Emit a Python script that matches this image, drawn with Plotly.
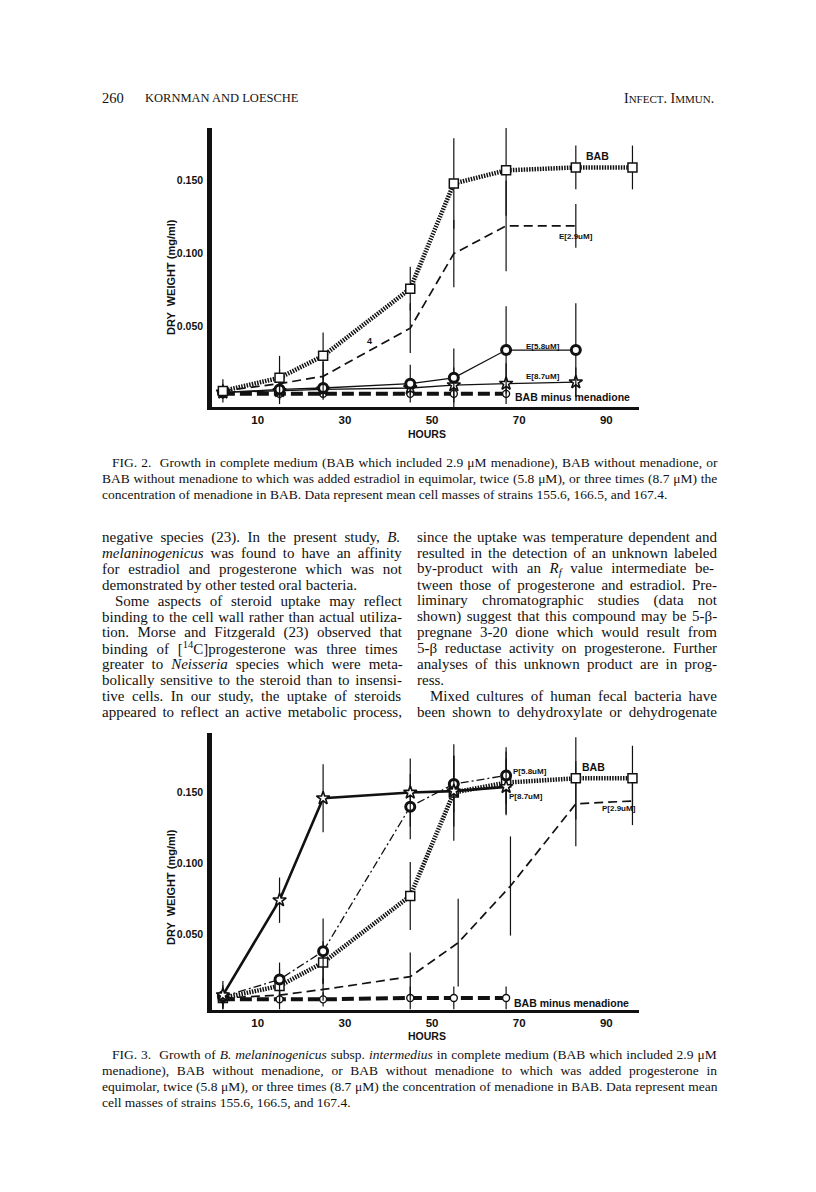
import re
import plotly.graph_objects as go

W, H = 816, 1192

# ---- FIG. 2 : estradiol ----
hours = [2, 15, 25, 45, 55, 67, 83, 96]
bab_2 = [0.006, 0.015, 0.030, 0.076, 0.148, 0.157, 0.159, 0.159]
bab_2_sd = [0.008, 0.015, 0.016, 0.015, 0.031, 0.031, 0.015, 0.015]
e29 = [0.006, 0.011, 0.016, 0.049, 0.100, 0.119, 0.119]
e29_sd = [0.005, 0.010, 0.010, 0.017, 0.023, 0.031, 0.015]
e58 = [0.005, 0.007, 0.008, 0.011, 0.015, 0.034, 0.034]
e58_sd = [0.004, 0.010, 0.008, 0.013, 0.020, 0.030, 0.032]
e87 = [0.005, 0.006, 0.007, 0.008, 0.010, 0.011, 0.012]
e87_sd = [0.003, 0.006, 0.005, 0.005, 0.012, 0.014, 0.010]
minus_2 = [0.004, 0.004, 0.004, 0.004, 0.004, 0.004]
minus_2_sd = [0.003, 0.003, 0.003, 0.003, 0.003, 0.003]

# ---- FIG. 3 : progesterone ----
bab_3 = [0.005, 0.0135, 0.030, 0.077, 0.150, 0.157, 0.160, 0.160]
bab_3_sd = [0.006, 0.012, 0.015, 0.024, 0.034, 0.022, 0.029, 0.023]
p87 = [0.007, 0.074, 0.146, 0.150, 0.151, 0.154]
p87_sd = [0.010, 0.016, 0.024, 0.024, 0.025, 0.020]
p58 = [0.006, 0.018, 0.038, 0.140, 0.156, 0.162]
p58_sd = [0.008, 0.012, 0.023, 0.023, 0.020, 0.020]
hours_p29 = [2, 15, 25, 45, 56, 68, 83, 96]
p29 = [0.005, 0.007, 0.011, 0.020, 0.044, 0.084, 0.142, 0.144]
p29_sd = [0.004, 0.006, 0.008, 0.017, 0.031, 0.035, 0.030, 0.017]
minus_3 = [0.004, 0.004, 0.004, 0.005, 0.005, 0.005]
minus_3_sd = [0.007, 0.007, 0.005, 0.008, 0.008, 0.008]

x_ticks = [10, 30, 50, 70, 90]
y_ticks = [0.05, 0.10, 0.15]
y_tick_text = ["0.050", "0.100", "0.150"]

cap2 = [
    "FIG. 2.  Growth in complete medium (BAB which included 2.9 μM menadione), BAB without menadione, or",
    "BAB without menadione to which was added estradiol in equimolar, twice (5.8 μM), or three times (8.7 μM) the",
    "concentration of menadione in BAB. Data represent mean cell masses of strains 155.6, 166.5, and 167.4.",
]
cap3 = [
    "FIG. 3.  Growth of <i>B. melaninogenicus</i> subsp. <i>intermedius</i> in complete medium (BAB which included 2.9 μM",
    "menadione), BAB without menadione, or BAB without menadione to which was added progesterone in",
    "equimolar, twice (5.8 μM), or three times (8.7 μM) the concentration of menadione in BAB. Data represent mean",
    "cell masses of strains 155.6, 166.5, and 167.4.",
]
col_left = [
    "negative species (23). In the present study, <i>B.</i>",
    "<i>melaninogenicus</i> was found to have an affinity",
    "for estradiol and progesterone which was not",
    "demonstrated by other tested oral bacteria.",
    "Some aspects of steroid uptake may reflect",
    "binding to the cell wall rather than actual utiliza-",
    "tion. Morse and Fitzgerald (23) observed that",
    "binding of [<sup>14</sup>C]progesterone was three times",
    "greater to <i>Neisseria</i> species which were meta-",
    "bolically sensitive to the steroid than to insensi-",
    "tive cells. In our study, the uptake of steroids",
    "appeared to reflect an active metabolic process,",
]
col_right = [
    "since the uptake was temperature dependent and",
    "resulted in the detection of an unknown labeled",
    "by-product with an <i>R<sub>f</sub></i> value intermediate be-",
    "tween those of progesterone and estradiol. Pre-",
    "liminary chromatographic studies (data not",
    "shown) suggest that this compound may be 5-β-",
    "pregnane 3-20 dione which would result from",
    "5-β reductase activity on progesterone. Further",
    "analyses of this unknown product are in prog-",
    "ress.",
    "Mixed cultures of human fecal bacteria have",
    "been shown to dehydroxylate or dehydrogenate",
]

# Times / Liberation Serif advance widths (per 1000 em), used to justify lines
TIMES = {}
for chars, w in [(" ,.", 250), ("ijlt:;/", 278), ("frI()[]-'!", 333), ("sJ", 389),
                 ("acez?", 444), ("bdghknopquvxy0123456789μβ", 500), ("FPS", 556),
                 ("ELTZ", 611), ("BCR", 667), ("wADGHKNOQUVXY", 722), ("m", 778),
                 ("M", 889), ("W", 944)]:
    for c in chars:
        TIMES[c] = w


def text_w(s, size):
    plain = re.sub(r"<[^>]+>", "", s)
    return sum(TIMES.get(c, 500) for c in plain) * size / 1000.0


def justify(s, width, size):
    plain = re.sub(r"<[^>]+>", "", s)
    n = plain.count(" ")
    if n == 0:
        return s
    ws = (width - text_w(s, size)) / n
    return '<span style="word-spacing:%.2fpx">%s</span>' % (ws, s)


def px(x):
    return x / W


def py(y):
    return 1 - y / H


SERIF = "Liberation Serif"
SANS = "Liberation Sans"
INK = "#111111"

fig = go.Figure()


def series(x, y, sd, ax, line, marker=None):
    fig.add_trace(go.Scatter(
        x=x, y=y, xaxis=ax[0], yaxis=ax[1],
        mode="lines+markers" if marker else "lines",
        line=line, marker=marker,
        error_y=dict(type="data", array=sd, symmetric=True, width=0,
                     thickness=1.2, color=INK),
        hoverinfo="skip"))


bab_line = dict(color=INK, width=4.5, dash="1.5px,1.2px")
minus_line = dict(color=INK, width=4, dash="12px,5px")
sq = dict(symbol="square", size=9, color="white", line=dict(color=INK, width=1.5))
circ = dict(symbol="circle", size=9, color="white", line=dict(color=INK, width=3))
small_circ = dict(symbol="circle", size=7, color="white", line=dict(color=INK, width=1.4))
star = dict(symbol="star", size=10, color="white", line=dict(color=INK, width=1.6))

# Fig. 2
a2 = ("x", "y")
series(hours[:6], minus_2, minus_2_sd, a2, minus_line, small_circ)
series(hours[:7], e87, e87_sd, a2, dict(color=INK, width=1.3), star)
series(hours[:7], e58, e58_sd, a2, dict(color=INK, width=1.3), circ)
series(hours[:7], e29, e29_sd, a2, dict(color=INK, width=1.7, dash="9px,5px"))
series(hours, bab_2, bab_2_sd, a2, bab_line, sq)

# Fig. 3
a3 = ("x2", "y2")
series(hours[:6], minus_3, minus_3_sd, a3, minus_line, small_circ)
series(hours_p29, p29, p29_sd, a3, dict(color=INK, width=1.7, dash="9px,5px"))
series(hours, bab_3, bab_3_sd, a3, bab_line, sq)
series(hours[:6], p58, p58_sd, a3, dict(color=INK, width=1.3, dash="8px,3px,2px,3px"), circ)
series(hours[:6], p87, p87_sd, a3, dict(color=INK, width=2.6), star)


def xax(anchor):
    return dict(domain=[px(212), px(639)], range=[-0.5, 97.5], anchor=anchor,
                showline=True, linecolor=INK, linewidth=3, showgrid=False,
                zeroline=False, ticks="", tickvals=x_ticks, fixedrange=True,
                tickfont=dict(family=SANS, size=11.5, color=INK, weight="bold"))


def yax(anchor, top, bottom, rng):
    return dict(domain=[py(bottom), py(top)], range=rng, anchor=anchor,
                showline=True, linecolor=INK, linewidth=4.5, showgrid=False,
                zeroline=False, ticks="", tickvals=y_ticks, ticktext=y_tick_text,
                fixedrange=True, ticklabelstandoff=2,
                tickfont=dict(family=SANS, size=10.5, color=INK, weight="bold"))


ann = []


def note(x, y, text, size, family=SERIF, xanchor="left", **kw):
    ann.append(dict(x=x, y=y, xref=kw.pop("xref", "paper"), yref=kw.pop("yref", "paper"),
                    text=text, showarrow=False, xanchor=xanchor, yanchor="middle",
                    font=dict(family=family, size=size, color=INK), **kw))


# running head
note(px(100), py(98), "260", 14.5)
note(px(143), py(98), "KORNMAN AND LOESCHE", 12.5)
note(px(716), py(98), "I<span style='font-size:11px'>NFECT</span>. I<span style='font-size:11px'>MMUN</span>.",
     14, xanchor="right")

# in-chart labels, fig. 2
for x, y, t, s in [(88, 0.167, "<b>BAB</b>", 10.5), (83, 0.112, "<b>E[2.9uM]</b>", 8),
                   (75.5, 0.0365, "<b>E[5.8uM]</b>", 8), (75.5, 0.016, "<b>E[8.7uM]</b>", 8),
                   (82.3, 0.0016, "<b>BAB minus menadione</b>", 10.5), (35.7, 0.040, "<b>4</b>", 9)]:
    note(x, y, t, s, family=SANS, xanchor="center", xref="x", yref="y")
# in-chart labels, fig. 3
for x, y, t, s in [(87, 0.168, "<b>BAB</b>", 10.5), (72.5, 0.165, "<b>P[5.8uM]</b>", 8),
                   (71.5, 0.147, "<b>P[8.7uM]</b>", 8), (93, 0.139, "<b>P[2.9uM]</b>", 8),
                   (82, 0.0016, "<b>BAB minus menadione</b>", 10.5)]:
    note(x, y, t, s, family=SANS, xanchor="center", xref="x2", yref="y2")

# axis titles
for yc, yh in [(277, 434), (887, 1036)]:
    note(px(171), py(yc), "<b>DRY  WEIGHT (mg/ml)</b>", 11, family=SANS,
         xanchor="center", textangle=-90)
    note(px(427), py(yh), "<b>HOURS</b>", 10.5, family=SANS, xanchor="center")

# captions
CAP = 13.5
for i, line in enumerate(cap2):
    x0 = 110 if i == 0 else 100
    t = line if i == len(cap2) - 1 else justify(line, 715 - x0, CAP)
    note(px(x0), py(462 + 16 * i), t, CAP)
for i, line in enumerate(cap3):
    x0 = 110 if i == 0 else 100
    t = line if i == len(cap3) - 1 else justify(line, 715 - x0, CAP)
    note(px(x0), py(1054 + 16.3 * i), t, CAP)

# body text, two columns
BODY = 15
for col, left, ends, indents in [(col_left, 100, {3}, {4}), (col_right, 415, {9}, {10})]:
    for i, line in enumerate(col):
        x0 = left + (13 if i in indents else 0)
        t = line if i in ends else justify(line, left + 300 - x0, BODY)
        note(px(x0), py(537 + 15.9 * i), t, BODY)

fig.update_layout(
    width=W, height=H, margin=dict(l=0, r=0, t=0, b=0),
    paper_bgcolor="white", plot_bgcolor="white", showlegend=False,
    xaxis=xax("y"), yaxis=yax("x", 128, 407, [-0.005, 0.186]),
    xaxis2=xax("y2"), yaxis2=yax("x2", 733, 1010, [-0.0035, 0.192]),
    annotations=ann,
)

# page body has a default 8px margin; drop it so the figure sits at the origin
fig.write_html("out.html", config={"displayModeBar": False},
               post_script="document.body.style.margin='0';")
